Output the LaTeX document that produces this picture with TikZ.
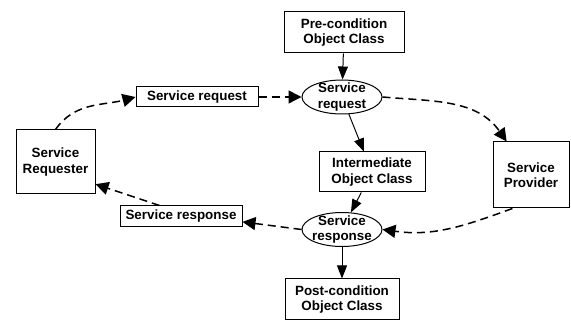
\documentclass[tikz,border=0pt]{standalone}
\usepackage{fontspec}
\setmainfont{Liberation Sans}
\usetikzlibrary{shapes.geometric,arrows.meta}

\tikzset{
    box/.style={draw, line width=1pt, inner sep=0pt, align=center, font=\fontsize{13.4}{15.5}\selectfont\bfseries},
    oval/.style={box, ellipse, inner xsep=-4pt, inner ysep=-5pt, minimum width=80pt, minimum height=34pt},
    msg/.style={draw, line width=1.5pt, dash pattern=on 8pt off 5pt, -{Triangle[length=13pt,width=13pt]}},
    flow/.style={draw, line width=1pt, -{Triangle[length=13pt,width=10pt]}}
}

\begin{document}
\begin{tikzpicture}[x=1pt, y=-1pt]
        \useasboundingbox (0,0) rectangle (571,320);
        % objects
        \node[box, minimum width=120pt, minimum height=41pt] (pre) at (344,32.5) {Pre-condition\\Object Class};
        \node[box, minimum width=106pt, minimum height=40pt] (inter) at (372,172) {Intermediate\\Object Class};
        \node[box, minimum width=114pt, minimum height=41pt] (post) at (342,299.5) {Post-condition\\Object Class};
        \node[box, minimum width=79pt, minimum height=64pt] (req) at (55.5,162) {Service\\Requester};
        \node[box, minimum width=76pt, minimum height=66pt] (prov) at (531,175) {Service\\Provider};
        % messages
        \node[box, minimum width=122pt, minimum height=20pt] (sreq) at (197,97) {Service request};
        \node[box, minimum width=122pt, minimum height=21pt] (sresp) at (181,216.5) {Service response};
        \node[oval] (ereq) at (342,97) {Service\\request};
        \node[oval] (eresp) at (342,229.5) {Service\\response};
        % object flow
        \foreach \a/\b in {pre/ereq, ereq/inter, inter/eresp, eresp/post}{
            \path[flow] (\a) -- (\b);
        }
        % message flow
        \path[msg] (req.north) to[out=55, in=195] (sreq.west);
        \path[msg] (sreq.east) -- (ereq.west);
        \path[msg] (ereq.east) to[out=-5, in=125] (prov.126);
        \path[msg] (prov.-119) to[out=200, in=-8] (eresp.east);
        \path[msg] (eresp.west) -- (sresp.-5);
        \path[msg] (sresp.153) -- (req.-29);
    \end{tikzpicture}
\end{document}
